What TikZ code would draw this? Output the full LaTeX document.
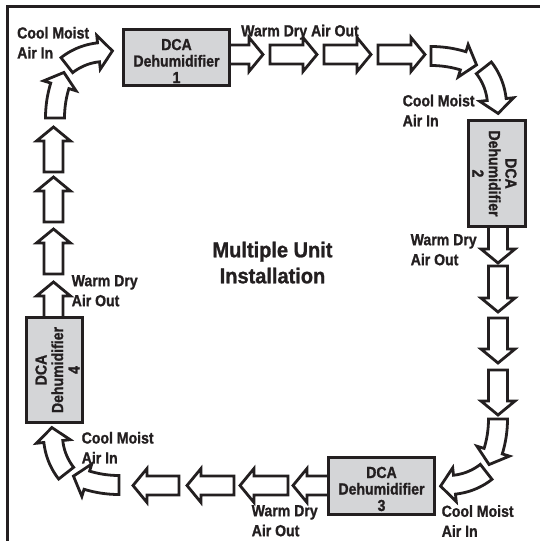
\documentclass[tikz,border=0pt]{standalone}
\usepackage{fontspec}
\setmainfont{Liberation Sans}[FakeStretch=0.88,BoldFeatures={FakeBold=1.2}]
\newfontfamily\titlefont{Liberation Sans}[FakeStretch=0.93,BoldFeatures={FakeBold=1.2}]
\definecolor{boxgray}{RGB}{212,213,215}
\definecolor{ink}{RGB}{35,31,32}
\tikzset{
 arrowline/.style={draw=ink, line width=2.8pt, fill=white, line join=miter, miter limit=10},
 unit/.style={draw=ink, line width=3pt, fill=boxgray, inner sep=0pt},
 unittext/.style={font=\fontsize{16}{16.5}\selectfont\bfseries, align=center, text=ink, inner sep=0pt},
 lab/.style={font=\fontsize{16}{20}\selectfont\bfseries, align=left, text=ink, inner sep=0pt, anchor=north west},
 titletext/.style={font=\titlefont\fontsize{21.5}{26}\selectfont\bfseries, align=center, text=ink, inner sep=0pt, anchor=north},
}
\newcommand\blockarrow[4]{%
 \begin{scope}[shift={(#1,#2)},rotate=#3]
 \draw[arrowline] (0,-9.5) -- ({#4-14},-9.5) -- ({#4-14},-17) -- (#4,0) -- ({#4-14},17) -- ({#4-14},9.5) -- (0,9.5) -- cycle;
 \end{scope}}
\newcommand\bentarrow[5]{%
 \draw[arrowline] plot[domain=#4:#5,samples=20] ({#1+(#3-9.5)*cos(\x)},{#2+(#3-9.5)*sin(\x)})
  -- ({#1+(#3-17)*cos(#5)},{#2+(#3-17)*sin(#5)})
  -- ({#1+#3*cos(#5)-14*sin(#5)},{#2+#3*sin(#5)+14*cos(#5)})
  -- ({#1+(#3+17)*cos(#5)},{#2+(#3+17)*sin(#5)})
  -- plot[domain=#5:#4,samples=20] ({#1+(#3+9.5)*cos(\x)},{#2+(#3+9.5)*sin(\x)})
  -- cycle;}
\newcommand\cornerpair[3]{%
 \begin{scope}[shift={(#1,#2)},rotate=#3]
 \bentarrow{-66}{110}{110}{-90}{-73}
 \bentarrow{-62}{50}{62}{-38}{-6}
 \end{scope}}
\begin{document}
\begin{tikzpicture}[x=1pt,y=-1pt]
\useasboundingbox (0,0) rectangle (539,541);
% frame
\draw[ink, line width=3pt, line join=miter] (7.5,548) -- (7.5,6.7) -- (548,6.7);
% top row
\blockarrow{222}{54.5}{0}{41}
\blockarrow{270}{54.5}{0}{47}
\blockarrow{324}{54.5}{0}{47}
\blockarrow{378}{54.5}{0}{47}
% right column
\blockarrow{498}{220}{-90}{43}
\blockarrow{498}{266}{-90}{46}
\blockarrow{498}{318}{-90}{45}
\blockarrow{498}{370}{-90}{45}
% bottom row
\blockarrow{335}{485.5}{180}{42}
\blockarrow{288}{485.5}{180}{48}
\blockarrow{234}{485.5}{180}{47}
\blockarrow{179}{485.5}{180}{46}
% left column
\blockarrow{53.5}{324}{90}{42}
\blockarrow{53.5}{274}{90}{45}
\blockarrow{53.5}{222}{90}{45}
\blockarrow{53.5}{172}{90}{45}
% corners
\cornerpair{497}{56}{0}
\cornerpair{498}{485}{-90}
\cornerpair{53}{485}{180}
\cornerpair{55}{52}{90}
% units
\node[unit, minimum width=106pt, minimum height=56pt] (u1) at (176.5,57.5) {};
\node[unittext] (t1) at (176.5,61) {DCA\\Dehumidifier\\1};
\node[unit, minimum width=57pt, minimum height=106pt] (u2) at (497,173.5) {};
\node[unittext, rotate=-90] (t2) at (494.5,173.5) {DCA\\Dehumidifier\\2};
\node[unit, minimum width=106pt, minimum height=57pt] (u3) at (381.5,486) {};
\node[unittext] (t3) at (381.5,489) {DCA\\Dehumidifier\\3};
\node[unit, minimum width=56pt, minimum height=105pt] (u4) at (54.5,370) {};
\node[unittext, rotate=90] (t4) at (57.5,370) {DCA\\Dehumidifier\\4};
% labels
\node[lab] (l1) at (17,26.7) {Cool Moist\\Air In};
\node[lab] (l2) at (241,24.5) {Warm Dry Air Out};
\node[lab] (l3) at (402.5,94.5) {Cool Moist\\Air In};
\node[lab] (l4) at (410.5,234) {Warm Dry\\Air Out};
\node[lab] (l5) at (71.5,275) {Warm Dry\\Air Out};
\node[lab] (l6) at (81.5,431.7) {Cool Moist\\Air In};
\node[lab] (l7) at (251.5,505) {Warm Dry\\Air Out};
\node[lab] (l8) at (441.5,505) {Cool Moist\\Air In};
\node[titletext] (title) at (272.5,241.5) {Multiple Unit\\Installation};
\end{tikzpicture}
\end{document}
